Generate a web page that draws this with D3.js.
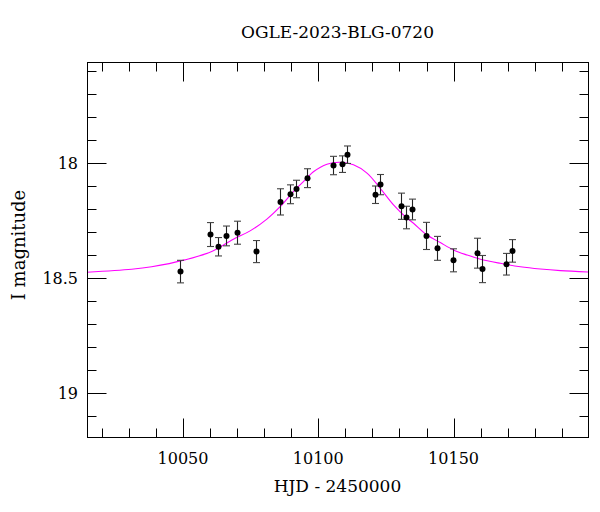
<!DOCTYPE html>
<html>
<head>
<meta charset="utf-8">
<script src="https://cdn.jsdelivr.net/npm/d3@7"></script>
<style>
  html, body { margin: 0; padding: 0; background: #fff; }
  svg { display: block; }
  text { font-family: "DejaVu Serif", "Liberation Serif", serif; fill: #000; }
</style>
</head>
<body>
<svg id="chart" width="600" height="512"></svg>
<script>
// ---- data ----
const title = "OGLE-2023-BLG-0720";
const xLabel = "HJD - 2450000";
const yLabel = "I magnitude";

const hjd = [10048.9, 10060.0, 10062.8, 10065.9, 10070.0, 10076.8, 10085.8, 10089.7, 10091.8, 10095.9,
             10105.6, 10108.7, 10110.7, 10120.8, 10122.8, 10130.5, 10132.6, 10134.6, 10139.8, 10143.9,
             10149.8, 10158.7, 10160.6, 10169.4, 10171.6];
const mag = [18.471, 18.310, 18.363, 18.316, 18.302, 18.384, 18.168, 18.135, 18.112, 18.065,
             18.010, 18.004, 17.963, 18.137, 18.093, 18.187, 18.236, 18.201, 18.316, 18.370,
             18.422, 18.391, 18.460, 18.439, 18.381];
const magErr = [0.049, 0.052, 0.040, 0.043, 0.050, 0.048, 0.057, 0.041, 0.038, 0.041,
                0.040, 0.036, 0.038, 0.038, 0.044, 0.057, 0.049, 0.045, 0.059, 0.052,
                0.050, 0.065, 0.059, 0.047, 0.049];

// model light curve
const modelT = [10014.5, 10031.0, 10038.4, 10050.7, 10060.6, 10068.6, 10074.8, 10081.0, 10085.9, 10090.8,
                10095.8, 10098.2, 10103.2, 10108.1, 10113.0, 10118.0, 10122.9, 10127.8, 10132.8, 10135.2,
                10140.2, 10145.1, 10150.0, 10155.0, 10159.9, 10167.3, 10174.7, 10182.1, 10189.5, 10199.7];
const modelMag = [18.474, 18.461, 18.450, 18.420, 18.384, 18.330, 18.294, 18.243, 18.189, 18.123,
                  18.065, 18.037, 18.004, 17.996, 18.007, 18.043, 18.109, 18.181, 18.239, 18.261,
                  18.312, 18.345, 18.377, 18.399, 18.417, 18.435, 18.450, 18.460, 18.467, 18.473];

const xMajorTicks = [10050, 10100, 10150];
const xMinorTicks = [10020, 10030, 10040, 10060, 10070, 10080, 10090, 10110, 10120, 10130, 10140, 10160, 10170, 10180, 10190];
const yMajorTicks = [18, 18.5, 19];
const yMinorTicks = [17.6, 17.7, 17.8, 17.9, 18.1, 18.2, 18.3, 18.4, 18.6, 18.7, 18.8, 18.9, 19.1];
const xDomain = [10014.5, 10199.7];
const yDomain = [17.56, 19.19];

// ---- layout ----
const L = 87, R = 588, T = 62, B = 437;
const majorLen = 19, minorLen = 9;

const svg = d3.select("#chart");
const x = d3.scaleLinear().domain(xDomain).range([L, R]);
const y = d3.scaleLinear().domain(yDomain).range([T, B]);

const plot = svg.append("g");

svg.append("defs").append("clipPath").attr("id", "clip")
  .append("rect").attr("x", L).attr("y", T).attr("width", R - L).attr("height", B - T);

// model curve
const line = d3.line().x((d) => x(d[0])).y((d) => y(d[1])).curve(d3.curveCatmullRom.alpha(0.5));
plot.append("path")
  .datum(modelT.map((t, i) => [t, modelMag[i]]))
  .attr("d", line)
  .attr("fill", "none")
  .attr("stroke", "#ff00ff")
  .attr("stroke-width", 1.1)
  .attr("clip-path", "url(#clip)");

// error bars
const pts = hjd.map((t, i) => ({ t, m: mag[i], e: magErr[i] }));
const eb = plot.append("g").attr("stroke", "#222").attr("stroke-width", 1.1);
eb.selectAll("line.v").data(pts).join("line")
  .attr("x1", (d) => Math.round(x(d.t)) + 0.5).attr("x2", (d) => Math.round(x(d.t)) + 0.5)
  .attr("y1", (d) => y(d.m - d.e)).attr("y2", (d) => y(d.m + d.e));
eb.selectAll("line.c1").data(pts).join("line")
  .attr("x1", (d) => Math.round(x(d.t)) - 3).attr("x2", (d) => Math.round(x(d.t)) + 4)
  .attr("y1", (d) => y(d.m - d.e)).attr("y2", (d) => y(d.m - d.e)).attr("stroke", "#444");
eb.selectAll("line.c2").data(pts).join("line")
  .attr("x1", (d) => Math.round(x(d.t)) - 3).attr("x2", (d) => Math.round(x(d.t)) + 4)
  .attr("y1", (d) => y(d.m + d.e)).attr("y2", (d) => y(d.m + d.e)).attr("stroke", "#444");

// points
plot.append("g").selectAll("circle").data(pts).join("circle")
  .attr("cx", (d) => Math.round(x(d.t)) + 0.5)
  .attr("cy", (d) => y(d.m))
  .attr("r", 3)
  .attr("fill", "#000");

// ---- axes / frame with ticks on all four sides ----
const ax = svg.append("g").attr("stroke", "#000").attr("stroke-width", 1).attr("fill", "none");
const px = (v) => Math.round(v) + 0.5;
ax.append("rect").attr("x", px(L)).attr("y", px(T)).attr("width", Math.round(R - L)).attr("height", Math.round(B - T));

function xTicks(vals, len) {
  vals.forEach((v) => {
    const xx = px(x(v));
    ax.append("line").attr("x1", xx).attr("x2", xx).attr("y1", px(B)).attr("y2", px(B) - len);
    ax.append("line").attr("x1", xx).attr("x2", xx).attr("y1", px(T)).attr("y2", px(T) + len);
  });
}
function yTicks(vals, len) {
  vals.forEach((v) => {
    const yy = px(y(v));
    ax.append("line").attr("y1", yy).attr("y2", yy).attr("x1", px(L)).attr("x2", px(L) + len);
    ax.append("line").attr("y1", yy).attr("y2", yy).attr("x1", px(R)).attr("x2", px(R) - len);
  });
}
xTicks(xMajorTicks, majorLen);
xTicks(xMinorTicks, minorLen);
yTicks(yMajorTicks, majorLen);
yTicks(yMinorTicks, minorLen);

// tick labels
const fmtY = d3.format("");
svg.append("g").selectAll("text").data(xMajorTicks).join("text")
  .attr("x", (d) => x(d)).attr("y", 464)
  .attr("text-anchor", "middle").attr("font-size", 16)
  .text((d) => d);
svg.append("g").selectAll("text").data(yMajorTicks).join("text")
  .attr("x", 78).attr("y", (d) => y(d) + 6)
  .attr("text-anchor", "end").attr("font-size", 16)
  .text((d) => fmtY(d));

// titles
svg.append("text").attr("x", (L + R) / 2).attr("y", 38)
  .attr("text-anchor", "middle").attr("font-size", 17).text(title);
svg.append("text").attr("x", (L + R) / 2).attr("y", 492)
  .attr("text-anchor", "middle").attr("font-size", 17).text(xLabel);
svg.append("text").attr("transform", "translate(25,245) rotate(-90)")
  .attr("text-anchor", "middle").attr("font-size", 18).text(yLabel);
</script>
</body>
</html>
